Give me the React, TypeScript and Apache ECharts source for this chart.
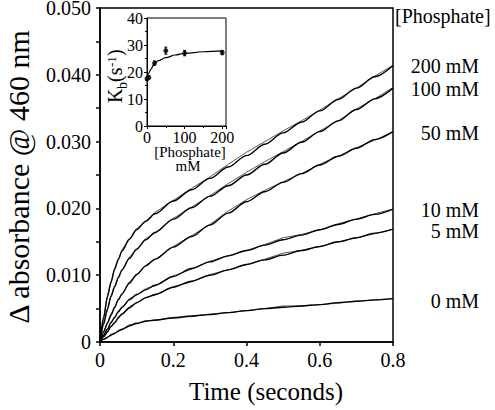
import React, { useEffect, useRef } from "react";
import * as echarts from "echarts";

// ---- main panel data (time in s, ΔA460) ----
const TIME = [0, 0.01, 0.02, 0.03, 0.04, 0.05, 0.06, 0.08, 0.1, 0.125, 0.15, 0.2, 0.25, 0.3, 0.35, 0.4, 0.45, 0.5, 0.55, 0.6, 0.65, 0.7, 0.75, 0.8];

// fitted curves
const FIT_200 = [0, 0.0037, 0.0067, 0.009, 0.0109, 0.0124, 0.0136, 0.0154, 0.0168, 0.0181, 0.0192, 0.0211, 0.0228, 0.0245, 0.0262, 0.0279, 0.0296, 0.0313, 0.0329, 0.0346, 0.0363, 0.038, 0.0397, 0.0414];
const FIT_100 = [0, 0.0027, 0.0049, 0.0068, 0.0083, 0.0096, 0.0108, 0.0125, 0.0139, 0.0153, 0.0164, 0.0184, 0.0201, 0.0218, 0.0234, 0.025, 0.0266, 0.0283, 0.0299, 0.0315, 0.0331, 0.0348, 0.0364, 0.038];
const FIT_50 = [0, 0.0015, 0.0028, 0.004, 0.0052, 0.0063, 0.0072, 0.0088, 0.0101, 0.0114, 0.0124, 0.0142, 0.0158, 0.0175, 0.0193, 0.021, 0.0225, 0.0239, 0.0252, 0.0265, 0.0278, 0.029, 0.0303, 0.0315];
const FIT_10 = [0, 0.001, 0.0019, 0.0029, 0.0037, 0.0045, 0.0052, 0.0063, 0.0071, 0.0078, 0.0085, 0.0098, 0.011, 0.012, 0.0129, 0.0137, 0.0145, 0.0153, 0.016, 0.0168, 0.0176, 0.0184, 0.0191, 0.0199];
const FIT_5 = [0, 0.0008, 0.0015, 0.0023, 0.0029, 0.0036, 0.0042, 0.0051, 0.0059, 0.0066, 0.0071, 0.0082, 0.0091, 0.01, 0.0108, 0.0116, 0.0123, 0.013, 0.0137, 0.0143, 0.015, 0.0156, 0.0163, 0.0169];
const FIT_0 = [0, 0.0004, 0.0007, 0.001, 0.0013, 0.0016, 0.0019, 0.0024, 0.0028, 0.0031, 0.0033, 0.0036, 0.0039, 0.0041, 0.0044, 0.0047, 0.005, 0.0052, 0.0054, 0.0056, 0.0059, 0.0061, 0.0063, 0.0065];

// measured traces
const DATA_200 = [0, 0.0035, 0.0069, 0.0088, 0.0111, 0.0122, 0.0138, 0.0153, 0.017, 0.018, 0.0194, 0.0212, 0.023, 0.0247, 0.0266, 0.0284, 0.03, 0.0316, 0.0331, 0.0347, 0.0364, 0.038, 0.0398, 0.0414];
const DATA_100 = [0, 0.0029, 0.0047, 0.007, 0.0082, 0.0098, 0.0107, 0.0127, 0.0138, 0.0155, 0.0163, 0.0185, 0.0202, 0.0219, 0.0237, 0.0254, 0.027, 0.0285, 0.03, 0.0316, 0.0331, 0.0349, 0.0364, 0.0381];
const DATA_50 = [0, 0.0016, 0.0027, 0.0042, 0.0051, 0.0065, 0.0071, 0.009, 0.01, 0.0115, 0.0123, 0.0143, 0.0159, 0.0176, 0.0196, 0.0213, 0.0227, 0.024, 0.0252, 0.0266, 0.0278, 0.0291, 0.0302, 0.0315];
const DATA_10 = [0, 0.0011, 0.0018, 0.003, 0.0036, 0.0047, 0.0051, 0.0065, 0.007, 0.008, 0.0084, 0.0099, 0.0109, 0.0121, 0.0129, 0.0137, 0.0146, 0.0156, 0.0161, 0.0168, 0.0177, 0.0184, 0.0192, 0.0199];
const DATA_5 = [0, 0.0009, 0.0014, 0.0024, 0.0028, 0.0038, 0.0041, 0.0053, 0.0058, 0.0067, 0.007, 0.0083, 0.009, 0.0101, 0.0108, 0.0116, 0.0124, 0.0133, 0.0137, 0.0143, 0.015, 0.0156, 0.0162, 0.0169];
const DATA_0 = [0, 0.0005, 0.0006, 0.0012, 0.0012, 0.0018, 0.0018, 0.0026, 0.0027, 0.0032, 0.0032, 0.0037, 0.0038, 0.0042, 0.0044, 0.0047, 0.005, 0.0054, 0.0054, 0.0056, 0.0058, 0.0061, 0.0063, 0.0065];

const CURVE_LABELS = ["200 mM", "100 mM", "50 mM", "10 mM", "5 mM", "0 mM"];
const LABEL_DY = [1, 1, 1, 1, 2, 2];

// ---- inset data ----
const PHOS = [0, 5, 20, 50, 100, 200];
const KB = [17.5, 18.0, 23.3, 27.9, 27.0, 27.2];
const KB_ERR = [0.6, 0.6, 0.8, 1.3, 1.0, 0.8];
const FIT_PHOS = [0, 5, 10, 20, 30, 50, 75, 100, 150, 200];
const FIT_KB = [17.8, 19.6, 21.0, 23.2, 24.2, 25.3, 26.3, 26.9, 27.5, 27.8];

const FONT = "'Liberation Serif', 'Times New Roman', Times, serif";

export default function App() {
  const ref = useRef<HTMLDivElement>(null);
  useEffect(() => {
    if (!ref.current) return;
    const chart = echarts.init(ref.current, undefined, { renderer: "svg" });
    const fits = [FIT_200, FIT_100, FIT_50, FIT_10, FIT_5, FIT_0];
    const datas = [DATA_200, DATA_100, DATA_50, DATA_10, DATA_5, DATA_0];
    const series: any[] = [];
    datas.forEach((d) => {
      series.push({
        type: "line",
        xAxisIndex: 0,
        yAxisIndex: 0,
        data: TIME.map((t, i) => [t, d[i]]),
        symbol: "none",
        silent: true,
        lineStyle: { color: "#555", width: 1 },
      });
    });
    fits.forEach((f, k) => {
      series.push({
        type: "line",
        name: CURVE_LABELS[k],
        xAxisIndex: 0,
        yAxisIndex: 0,
        data: TIME.map((t, i) => [t, f[i]]),
        symbol: "none",
        smooth: 0.3,
        smoothMonotone: "x",
        silent: true,
        lineStyle: { color: "#000", width: 1.4 },
        endLabel: {
          show: true,
          formatter: CURVE_LABELS[k],
          color: "#000",
          fontSize: 20,
          fontFamily: FONT,
          align: "right",
          verticalAlign: "middle",
          distance: 0,
          offset: [86, LABEL_DY[k]],
        },
      });
    });
    series.push({
      type: "line",
      xAxisIndex: 1,
      yAxisIndex: 1,
      data: FIT_PHOS.map((p, i) => [p, FIT_KB[i]]),
      symbol: "none",
      smooth: 0.4,
      smoothMonotone: "x",
      silent: true,
      lineStyle: { color: "#000", width: 1.2 },
      z: 10,
    });
    series.push({
      type: "scatter",
      xAxisIndex: 1,
      yAxisIndex: 1,
      data: PHOS.map((p, i) => [p, KB[i]]),
      symbol: "circle",
      symbolSize: 5,
      itemStyle: { color: "#000" },
      silent: true,
      z: 11,
    });
    series.push({
      type: "custom",
      xAxisIndex: 1,
      yAxisIndex: 1,
      data: PHOS.map((p, i) => [p, KB[i], KB_ERR[i]]),
      encode: { x: 0, y: 1 },
      silent: true,
      z: 11,
      renderItem: (params: any, api: any) => {
        const x = api.value(0);
        const y = api.value(1);
        const e = api.value(2);
        const a = api.coord([x, y + e]);
        const b = api.coord([x, y - e]);
        return {
          type: "group",
          children: [
            { type: "line", shape: { x1: a[0], y1: a[1], x2: b[0], y2: b[1] }, style: { stroke: "#000", lineWidth: 1.2 } },
            { type: "line", shape: { x1: a[0] - 1.5, y1: a[1], x2: a[0] + 1.5, y2: a[1] }, style: { stroke: "#000", lineWidth: 1 } },
            { type: "line", shape: { x1: b[0] - 1.5, y1: b[1], x2: b[0] + 1.5, y2: b[1] }, style: { stroke: "#000", lineWidth: 1 } },
          ],
        };
      },
    });

    const txt = (text: string, x: number, y: number, size: number, align = "center", extra: any = {}) => ({
      type: "text",
      x,
      y,
      ...extra,
      style: {
        text,
        fontSize: size,
        fontFamily: FONT,
        fill: "#000",
        align,
        textAlign: align,
        verticalAlign: "middle",
        textVerticalAlign: "middle",
      },
    });
    const sub = (text: string, x: number, y: number, size: number) => ({
      type: "text",
      x,
      y,
      style: { text, fontSize: size, fontFamily: FONT, fill: "#000", align: "left", textAlign: "left", verticalAlign: "bottom", textVerticalAlign: "bottom" },
    });

    chart.setOption({
      animation: false,
      backgroundColor: "#fff",
      textStyle: { fontFamily: FONT },
      grid: [
        { left: 100, top: 8, width: 293, height: 334, show: true, borderColor: "#000", borderWidth: 1.5, backgroundColor: "transparent", containLabel: false, outerBoundsMode: "none" },
        { left: 147, top: 18, width: 79, height: 108, show: true, borderColor: "#000", borderWidth: 1, backgroundColor: "#fff", containLabel: false, outerBoundsMode: "none" },
      ],
      xAxis: [
        {
          type: "value",
          gridIndex: 0,
          min: 0,
          max: 0.8,
          interval: 0.2,
          axisLine: { lineStyle: { color: "#000", width: 1.5 } },
          axisTick: { show: true, inside: false, length: 4, lineStyle: { color: "#000", width: 1.5 } },
          splitLine: { show: false },
          axisLabel: {
            color: "#000",
            fontSize: 20,
            fontFamily: FONT,
            margin: 8,
            formatter: (v: number) => (v === 0 ? "0" : v.toFixed(1)),
          },
        },
        {
          type: "value",
          gridIndex: 1,
          min: 0,
          max: 210,
          interval: 100,
          axisLine: { lineStyle: { color: "#000", width: 1 } },
          axisTick: { show: true, length: 3, lineStyle: { color: "#000" } },
          minorTick: { show: true, splitNumber: 2, length: 2, lineStyle: { color: "#000" } },
          splitLine: { show: false },
          axisLabel: {
            color: "#000",
            fontSize: 16,
            fontFamily: FONT,
            margin: 3,
            showMaxLabel: false,
            formatter: (v: number) => (v % 100 === 0 ? String(v) : ""),
          },
        },
      ],
      yAxis: [
        {
          type: "value",
          gridIndex: 0,
          min: 0,
          max: 0.05,
          interval: 0.01,
          axisLine: { show: true, lineStyle: { color: "#000", width: 1.5 } },
          axisTick: { show: true, inside: false, length: 4, lineStyle: { color: "#000", width: 1.5 } },
          minorTick: { show: true, splitNumber: 2, length: 4, lineStyle: { color: "#000", width: 1.5 } },
          splitLine: { show: false },
          axisLabel: {
            color: "#000",
            fontSize: 20,
            fontFamily: FONT,
            margin: 9,
            lineHeight: 16,
            formatter: (v: number) => (v === 0 ? "0" : v.toFixed(3)),
          },
        },
        {
          type: "value",
          gridIndex: 1,
          min: 0,
          max: 40,
          interval: 10,
          axisLine: { show: true, lineStyle: { color: "#000", width: 1 } },
          axisTick: { show: true, length: 3, lineStyle: { color: "#000" } },
          minorTick: { show: true, splitNumber: 2, length: 2, lineStyle: { color: "#000" } },
          splitLine: { show: false },
          axisLabel: { color: "#000", fontSize: 16, fontFamily: FONT, margin: 4 },
        },
      ],
      graphic: [
        txt("Δ absorbance @ 460 nm", 18, 177, 30, "center", { rotation: Math.PI / 2 }),
        txt("Time (seconds)", 266, 391, 25),
        txt("[Phosphate]", 395, 16, 20, "left"),
        txt("[Phosphate]", 190, 152, 15),
        txt("mM", 188, 166, 15),
        {
          type: "group",
          x: 125,
          y: 103,
          rotation: Math.PI / 2,
          children: [
            sub("K", 0, 0, 20),
            sub("b", 14, 4, 14),
            sub("(s", 21, 0, 20),
            sub("-1", 36, -7, 13),
            sub(")", 47, 0, 20),
          ],
        },
      ],
      series,
    });
    return () => chart.dispose();
  }, []);
  return <div ref={ref} style={{ position: "fixed", left: 0, top: 0, width: 495, height: 410 }} />;
}
